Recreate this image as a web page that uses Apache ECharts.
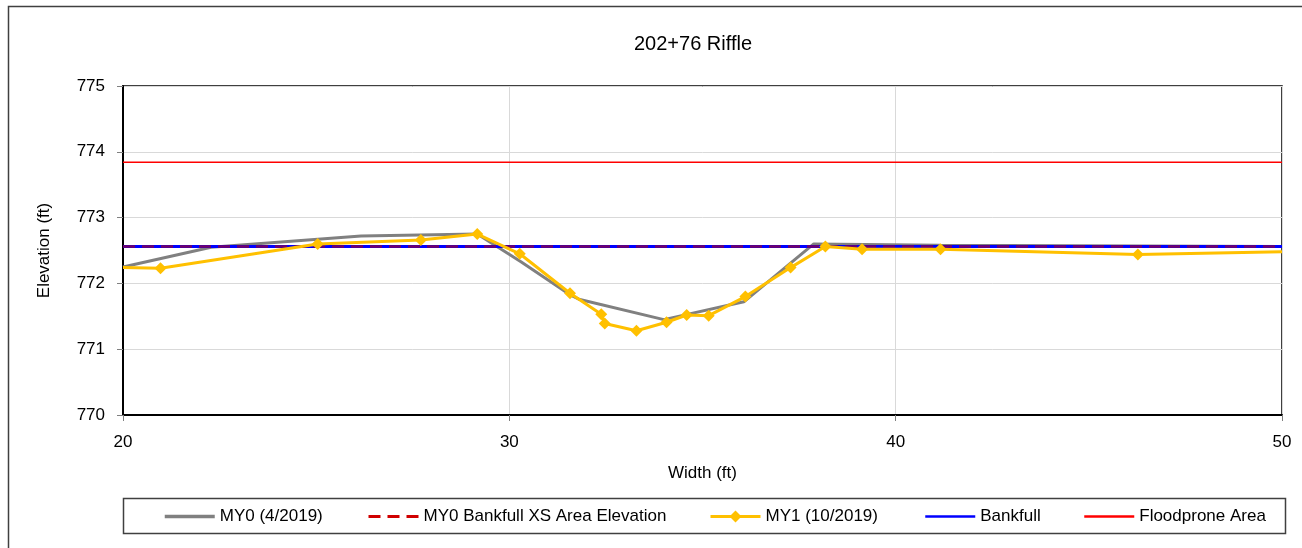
<!DOCTYPE html>
<html>
<head>
<meta charset="utf-8">
<title>202+76 Riffle</title>
<script src="https://cdn.jsdelivr.net/npm/echarts@6/dist/echarts.min.js"></script>
<style>
  html, body { margin: 0; padding: 0; background: #ffffff; }
  #chart { width: 1302px; height: 548px; }
</style>
</head>
<body>
<div id="chart"></div>
<script>
// Cross-section survey: station (ft) vs elevation (ft)
const seriesNames = ['MY0 (4/2019)', 'MY0 Bankfull XS Area Elevation', 'MY1 (10/2019)', 'Bankfull', 'Floodprone Area'];

const my0Width = [20, 22.28, 26.16, 29.17, 30.3, 31.59, 31.8, 34.0, 36.07, 37.88, 41.15, 50];
const my0Elev  = [772.25, 772.55, 772.72, 772.75, 772.33, 771.82, 771.76, 771.45, 771.72, 772.60, 772.58, 772.56];

const my1Width = [20, 20.97, 25.04, 27.71, 29.17, 30.27, 31.57, 32.38, 32.47, 33.29, 34.07, 34.59, 35.16, 36.11, 37.28, 38.18, 39.13, 41.16, 46.27, 50];
const my1Elev  = [772.24, 772.23, 772.60, 772.66, 772.75, 772.45, 771.85, 771.53, 771.39, 771.28, 771.41, 771.52, 771.51, 771.80, 772.24, 772.56, 772.52, 772.52, 772.44, 772.48];

const my0BankfullElev = 772.56;
const bankfullElev = 772.56;
const floodproneElev = 773.84;
const widthRange = [20, 50];

const xTicks = { min: 20, max: 50, interval: 10 };
const yTicks = { min: 770, max: 775, interval: 1 };

const FONT = 'Liberation Sans';

function pairs(xs, ys) { return xs.map((x, i) => [x, ys[i]]); }
function flat(y) { return widthRange.map(x => [x, y]); }

// survey end points sit on the axis edges and carry no marker
const my1Data = pairs(my1Width, my1Elev).map((p, i, arr) =>
  (i === 0 || i === arr.length - 1) ? { value: p, symbol: 'none' } : p);

const chart = echarts.init(document.getElementById('chart'), null, { renderer: 'canvas' });

// one legend per entry so each key sits at its own spot in the box;
// plain line keys hide the legend marker
function legendAt(name, left, extra) {
  return Object.assign({
    data: [name],
    left: left,
    top: 508,
    itemWidth: 50,
    itemHeight: 14,
    itemGap: 0,
    padding: 0,
    selectedMode: false,
    itemStyle: { opacity: 0 },
    textStyle: { fontFamily: FONT, fontSize: 17, color: '#000' }
  }, extra || {});
}

chart.setOption({
  animation: false,
  backgroundColor: '#ffffff',
  title: {
    text: '202+76 Riffle',
    left: 629,
    top: 29,
    textStyle: { fontFamily: FONT, fontSize: 20, fontWeight: 'normal', color: '#000' }
  },
  graphic: [
    {
      type: 'rect',
      silent: true,
      shape: { x: 8.5, y: 6.5, width: 1400, height: 600 },
      style: { fill: 'none', stroke: '#404040', lineWidth: 1.5 },
      z: -10
    },
    {
      type: 'rect',
      silent: true,
      shape: { x: 123.5, y: 498.5, width: 1162, height: 35 },
      style: { fill: 'none', stroke: '#404040', lineWidth: 1.5 },
      z: -10
    }
  ],
  legend: [
    legendAt(seriesNames[0], 163, { lineStyle: { width: 3.5 } }),
    legendAt(seriesNames[1], 367, { lineStyle: { opacity: 1, color: '#D00000', width: 3 } }),
    legendAt(seriesNames[2], 709, { itemHeight: 15, itemStyle: { opacity: 1 }, lineStyle: { width: 3 } }),
    legendAt(seriesNames[3], 924, { lineStyle: { width: 2.5 } }),
    legendAt(seriesNames[4], 1083, { lineStyle: { width: 2.5 } })
  ],
  grid: {
    left: 123, top: 86, right: 20, bottom: 133,
    show: true, borderColor: '#000', borderWidth: 1.5,
    containLabel: false
  },
  xAxis: {
    type: 'value',
    min: xTicks.min, max: xTicks.max, interval: xTicks.interval,
    name: 'Width (ft)',
    nameLocation: 'middle',
    nameGap: 50,
    nameTextStyle: { fontFamily: FONT, fontSize: 17, color: '#000' },
    axisLine: { show: true, onZero: false, lineStyle: { color: '#000', width: 2 } },
    axisTick: { show: true, length: 6, inside: false, lineStyle: { color: '#808080' } },
    axisLabel: { fontFamily: FONT, fontSize: 17, color: '#000', margin: 19 },
    splitLine: { show: true, lineStyle: { color: '#d9d9d9', width: 1 } }
  },
  yAxis: {
    type: 'value',
    min: yTicks.min, max: yTicks.max, interval: yTicks.interval,
    name: 'Elevation (ft)',
    nameLocation: 'middle',
    nameGap: 70,
    nameTextStyle: { fontFamily: FONT, fontSize: 17, color: '#000' },
    axisLine: { show: true, lineStyle: { color: '#000', width: 2 } },
    axisTick: { show: true, length: 6, inside: false, lineStyle: { color: '#808080' } },
    axisLabel: { fontFamily: FONT, fontSize: 17, color: '#000', margin: 18 },
    splitLine: { show: true, lineStyle: { color: '#d9d9d9', width: 1 } }
  },
  series: [
    {
      name: seriesNames[0],
      type: 'line',
      data: pairs(my0Width, my0Elev),
      symbol: 'none',
      clip: true,
      lineStyle: { color: '#808080', width: 3 },
      itemStyle: { color: '#808080' },
      z: 2
    },
    {
      name: seriesNames[3],
      type: 'line',
      data: flat(bankfullElev),
      symbol: 'none',
      lineStyle: { color: '#0000FF', width: 3 },
      itemStyle: { color: '#0000FF' },
      z: 3
    },
    {
      name: seriesNames[1],
      type: 'line',
      data: flat(my0BankfullElev),
      symbol: 'none',
      lineStyle: { color: '#C00000', width: 2.5, type: [12, 7], opacity: 0.6 },
      itemStyle: { color: '#C00000' },
      z: 4
    },
    {
      name: seriesNames[2],
      type: 'line',
      data: my1Data,
      symbol: 'diamond',
      symbolSize: 12,
      showAllSymbol: true,
      clip: true,
      lineStyle: { color: '#FFC000', width: 3 },
      itemStyle: { color: '#FFC000' },
      z: 5
    },
    {
      name: seriesNames[4],
      type: 'line',
      data: flat(floodproneElev),
      symbol: 'none',
      lineStyle: { color: '#FF0000', width: 1.5 },
      itemStyle: { color: '#FF0000' },
      z: 6
    }
  ]
});
</script>
</body>
</html>
